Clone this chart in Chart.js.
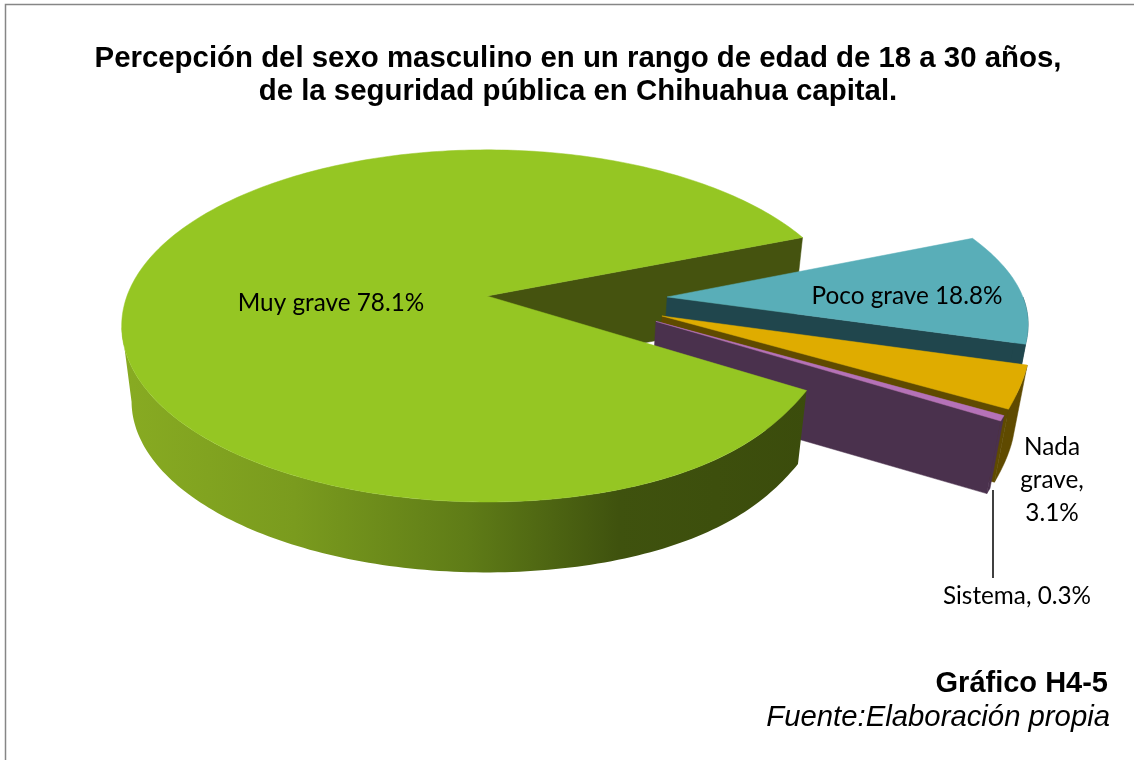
<!DOCTYPE html>
<html><head><meta charset="utf-8">
<style>html,body{margin:0;padding:0;background:#fff}canvas{display:block}</style>
<script src="https://cdn.jsdelivr.net/npm/chart.js@4"></script></head>
<body><div style="width:1134px;height:760px;position:relative"><canvas id="c" width="1134" height="760"></canvas></div>
<script>
const titleLines = ["Percepción del sexo masculino en un rango de edad de 18 a 30 años,", "de la seguridad pública en Chihuahua capital."];
const categories = ["Muy grave", "Poco grave", "Nada grave", "Sistema"];
const values = [78.1, 18.8, 3.1, 0.3];
const explosion = [0, 50, 49, 48];
const topColors = ["#95c623", "#59aeb8", "#dfac00", "#b572b8"];
const wallColors = ["#45530f", "#20464d", "#5f4a00", "#4a314d"];
const footHead = "Gráfico H4-5";
const footNote = "Fuente:Elaboración propia";

// view of the tilted pie
const V = {cx:487, cy:296, R:360, S:171, k:0.17, depth:76, shrink:0.973, warpC:-18*Math.PI/180, warpS:0.4, dirScale:0.5, dirBase:2*Math.PI/180, dentA:0.045, dentAt:28*Math.PI/180, dentW:25*Math.PI/180};
const rad = d => d*Math.PI/180;
function warp(t){
  const d = t - V.warpC;
  let f = Math.atan2(V.warpS*Math.sin(d), Math.cos(d));
  f += 2*Math.PI*Math.round((d-f)/(2*Math.PI));
  return V.warpC + f;
}
function proj(u,v){ const w = 1 - V.k*v; return [V.cx + V.R*u/w, V.cy + V.S*v/w]; }
function low(p){ return [V.cx+(p[0]-V.cx)*V.shrink, V.cy+(p[1]-V.cy)*V.shrink+V.depth]; }
function poly(ctx,pts,fill){
  ctx.beginPath(); pts.forEach((p,i)=> i?ctx.lineTo(p[0],p[1]):ctx.moveTo(p[0],p[1])); ctx.closePath();
  ctx.fillStyle = fill; ctx.fill();
  ctx.strokeStyle = typeof fill==="string"?fill:"transparent"; ctx.lineWidth=0.5; ctx.stroke();
}
function radial(phi){
  const p = Math.atan2(Math.sin(phi),Math.cos(phi));
  const x = (p-V.dentAt)/V.dentW;
  return 1 - V.dentA*Math.exp(-x*x);
}
function sliceGeom(arc){
  const turn = arc.startAngle > Math.PI ? 2*Math.PI : 0;
  const a = warp(arc.startAngle-turn), b = warp(arc.endAngle-turn), ex = arc.options.offset/100;
  const m = (a+b)/2*V.dirScale+V.dirBase, ox = ex*Math.cos(m), oy = ex*Math.sin(m);
  const at = (phi)=>{const r=radial(phi); return proj(ox+r*Math.cos(phi), oy+r*Math.sin(phi));};
  return {a,b,apex:proj(ox,oy),at};
}
function rimPts(g,from,to){ const n=Math.max(4,Math.ceil(Math.abs(to-from)/rad(1))),r=[]; for(let i=0;i<=n;i++) r.push(g.at(from+(to-from)*i/n)); return r; }

const pie3d = {
  id:"pie3d",
  beforeDatasetDraw(chart){
    const ctx = chart.ctx, arcs = chart.getDatasetMeta(0).data;
    ctx.save();
    const big = sliceGeom(arcs[0]);
    const upperRim = big.at(big.b);
    poly(ctx,[big.apex,upperRim,low(upperRim),low(big.apex)],wallColors[0]);
    for(let i=1;i<arcs.length;i++){
      const g = sliceGeom(arcs[i]);
      const rim = rimPts(g,g.a,g.b);
      const frontRim = rimPts(g,Math.max(g.a,0),g.b);
      poly(ctx,[g.apex,rim[rim.length-1],low(rim[rim.length-1]),low(g.apex)],wallColors[i]);
      poly(ctx,frontRim.concat(frontRim.map(low).reverse()),wallColors[i]);
      poly(ctx,[g.apex].concat(rim),topColors[i]);
    }
    const front = rimPts(big,big.a,rad(170));
    const grad = ctx.createLinearGradient(122,0,812,0);
    grad.addColorStop(0,"#88ab22"); grad.addColorStop(0.25,"#7a9b1e"); grad.addColorStop(0.5,"#5f7c17");
    grad.addColorStop(0.72,"#3f520e"); grad.addColorStop(1,"#3b4c0c");
    poly(ctx,front.concat(front.map(low).reverse()),grad);
    poly(ctx,[big.apex].concat(rimPts(big,big.a,big.b)),topColors[0]);
    ctx.restore();
    return false;
  },
  afterDraw(chart){
    const ctx = chart.ctx;
    ctx.save();
    ctx.strokeStyle="#868686"; ctx.lineWidth=1.5; ctx.strokeRect(5.5,4.5,1300,900);
    ctx.strokeStyle="#000"; ctx.lineWidth=1.5; ctx.beginPath(); ctx.moveTo(993,490); ctx.lineTo(993,578); ctx.stroke();
    ctx.fillStyle="#000"; ctx.textBaseline="middle"; ctx.textAlign="center";
    ctx.font='24.3px Lato';
    ctx.fillText(categories[0]+" "+values[0]+"%",331,303);
    ctx.fillText(categories[1]+" "+values[1]+"%",907,296);
    ctx.fillText("Nada",1052,447); ctx.fillText("grave,",1052,480); ctx.fillText(values[2]+"%",1052,513);
    ctx.fillText(categories[3]+", "+values[3]+"%",1017,596);
    ctx.textAlign="right";
    ctx.font='bold 29px "Liberation Sans"'; ctx.fillText(footHead,1108,684);
    ctx.font='italic 29.3px "Liberation Sans"'; ctx.fillText(footNote,1110,718);
    ctx.restore();
  }
};

new Chart(document.getElementById("c"),{
  type:"pie",
  data:{labels:categories,datasets:[{data:values,offset:explosion,backgroundColor:topColors,borderWidth:0}]},
  plugins:[pie3d],
  options:{
    responsive:false,animation:false,
    rotation:143.4,
    layout:{padding:{left:22,right:0,top:0,bottom:0}},
    plugins:{
      legend:{display:false},tooltip:{enabled:false},
      title:{display:true,text:titleLines,color:"#000",align:"center",
        font:{family:'"Liberation Sans"',size:29.4,weight:"bold",lineHeight:1.13},
        padding:{top:42,bottom:10}}
    }
  }
});
</script></body></html>
